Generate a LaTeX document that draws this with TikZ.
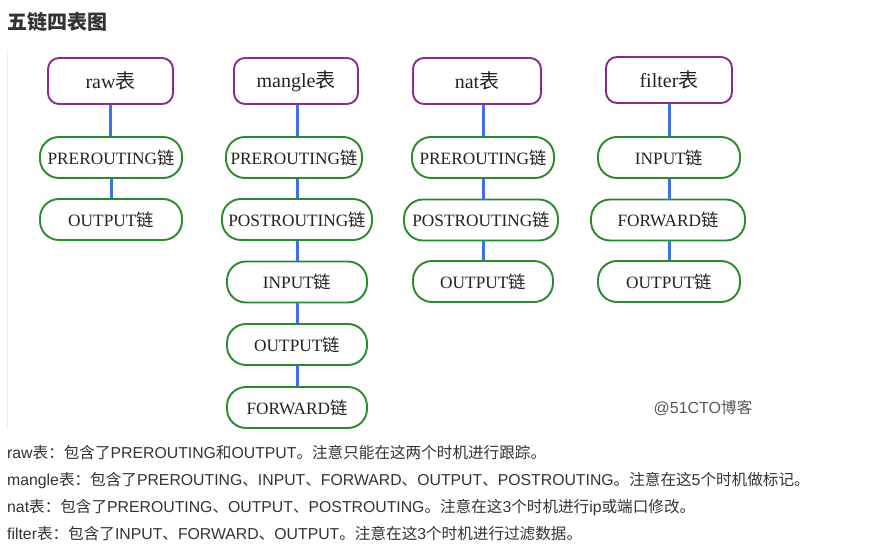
\documentclass[tikz,border=0pt]{standalone}
\usepackage{fontspec}
\setmainfont{Liberation Serif}
\newfontfamily\cjk{Noto Sans CJK SC}
\newfontfamily\lsans{Liberation Sans}
\definecolor{tblpurple}{HTML}{8A2C8C}
\definecolor{chngreen}{HTML}{2B8A2E}
\definecolor{linkblue}{HTML}{3D6FF0}
\definecolor{txtgray}{HTML}{333333}
\definecolor{nodetxt}{HTML}{222222}
\definecolor{faint}{HTML}{F2EAEE}
\newcommand\zhb{{\cjk 表}}
\newcommand\zhl{{\cjk 链}}
\newcommand\zh[1]{{\cjk\fontsize{15.6}{16}\selectfont #1}}
\tikzset{
  tbl/.style={draw=tblpurple, line width=1.9pt, rounded corners=11pt, minimum height=46pt, inner sep=0pt, text=nodetxt, font=\fontsize{20}{22}\selectfont},
  chn/.style={draw=chngreen, line width=1.9pt, rounded corners=19pt, minimum height=41pt, inner sep=0pt, text=nodetxt, font=\fontsize{17.3}{19}\selectfont},
  link/.style={draw=linkblue, line width=3pt},
  para/.style={anchor=base west, inner sep=0pt, text=txtgray, font=\lsans\fontsize{15.8}{18}\selectfont}
}
\begin{document}
\begin{tikzpicture}[x=1pt,y=-1pt]
\useasboundingbox (0,0) rectangle (873,559);
\fill[white] (0,0) rectangle (873,559);
\draw[faint, line width=1pt] (7,50) -- (7,428);

\node[anchor=base west, inner sep=0pt, text=txtgray, font=\cjk\bfseries\fontsize{20}{22}\selectfont] (title) at (7,30) {五链四表图};

% raw
\node[tbl, minimum width=125pt] (raw) at (110.5,81) {raw\zhb};
\node[chn, minimum width=142pt] (rawPre) at (111,157.5) {PREROUTING\zhl};
\node[chn, minimum width=142pt] (rawOut) at (111,219.5) {OUTPUT\zhl};
\draw[link] (raw.south) -- (raw.south |- rawPre.north);
\draw[link] (rawPre.south) -- (rawOut.north);

% mangle
\node[tbl, minimum width=124pt] (mangle) at (296,81) {mangle\zhb};
\node[chn, minimum width=136pt] (mPre) at (294,157.5) {PREROUTING\zhl};
\node[chn, minimum width=150pt] (mPost) at (297,219.5) {POSTROUTING\zhl};
\node[chn, minimum width=140pt] (mIn) at (297,282) {INPUT\zhl};
\node[chn, minimum width=140pt] (mOut) at (297,344.5) {OUTPUT\zhl};
\node[chn, minimum width=140pt] (mFwd) at (297,407.5) {FORWARD\zhl};
\draw[link] (mangle.south -| mIn.north) -- (mPre.north -| mIn.north);
\draw[link] (mPre.south -| mIn.north) -- (mPost.north -| mIn.north);
\draw[link] (mPost.south -| mIn.north) -- (mIn.north);
\draw[link] (mIn.south) -- (mOut.north);
\draw[link] (mOut.south) -- (mFwd.north);

% nat
\node[tbl, minimum width=128pt] (nat) at (477,81) {nat\zhb};
\node[chn, minimum width=142pt] (nPre) at (483,157.5) {PREROUTING\zhl};
\node[chn, minimum width=154pt] (nPost) at (481,220) {POSTROUTING\zhl};
\node[chn, minimum width=140pt] (nOut) at (483,281.5) {OUTPUT\zhl};
\draw[link] (nat.south -| nPre.north) -- (nPre.north);
\draw[link] (nPre.south) -- (nPost.north -| nPre.south);
\draw[link] (nPost.south -| nOut.north) -- (nOut.north);

% filter
\node[tbl, minimum width=126pt] (filter) at (669,80) {filter\zhb};
\node[chn, minimum width=142pt] (fIn) at (669,157.5) {INPUT\zhl};
\node[chn, minimum width=154pt] (fFwd) at (668,220) {FORWARD\zhl};
\node[chn, minimum width=142pt] (fOut) at (669,281.5) {OUTPUT\zhl};
\draw[link] (filter.south -| fIn.north) -- (fIn.north);
\draw[link] (fIn.south) -- (fFwd.north -| fIn.south);
\draw[link] (fFwd.south -| fOut.north) -- (fOut.north);

\node[anchor=center, inner sep=0pt, text=black!65, font=\lsans\fontsize{16}{18}\selectfont] (wm) at (703,408) {@51CTO\zh{博客}};

\node[para] (l1) at (7,458) {raw\zh{表：包含了}PREROUTING\zh{和}OUTPUT\zh{。注意只能在这两个时机进行跟踪。}};
\node[para] (l2) at (7,485) {mangle\zh{表：包含了}PREROUTING\zh{、}INPUT\zh{、}FORWARD\zh{、}OUTPUT\zh{、}POSTROUTING\zh{。注意在这}5\zh{个时机做标记。}};
\node[para] (l3) at (7,512) {nat\zh{表：包含了}PREROUTING\zh{、}OUTPUT\zh{、}POSTROUTING\zh{。注意在这}3\zh{个时机进行}ip\zh{或端口修改。}};
\node[para] (l4) at (7,539) {filter\zh{表：包含了}INPUT\zh{、}FORWARD\zh{、}OUTPUT\zh{。注意在这}3\zh{个时机进行过滤数据。}};
\end{tikzpicture}
\end{document}
